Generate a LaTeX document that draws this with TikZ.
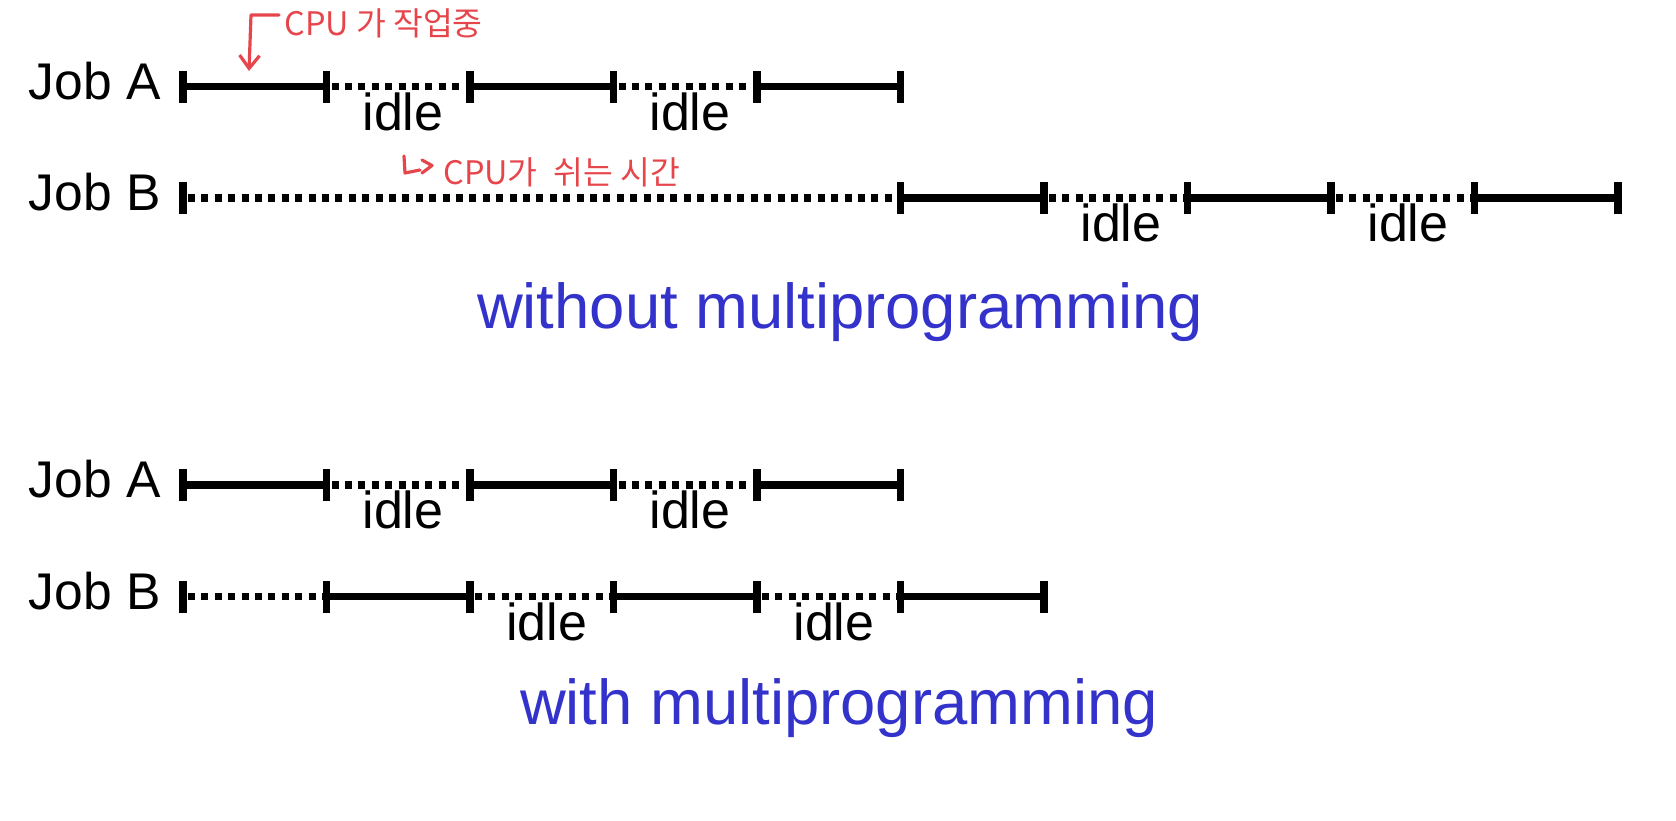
\documentclass[tikz,border=0pt]{standalone}
\usepackage{graphicx}
\usepackage{fontspec}
\setmainfont{Liberation Sans}
\newfontfamily\krfont{Noto Sans CJK KR}
\usetikzlibrary{arrows.meta}
\definecolor{titleblue}{HTML}{3333CC}
\definecolor{penred}{HTML}{E6464B}
\begin{document}
\begin{tikzpicture}[x=0.5pt,y=-0.5pt,
  seg/.style={line width=3.9pt},
  idleseg/.style={line width=3.9pt, dash pattern=on 3.5pt off 3.2pt, dash phase=-2.5pt},
  tickmark/.style={fill=black, draw=none, inner sep=0pt, minimum width=3.9pt, minimum height=16pt},
  joblbl/.style={anchor=base east, inner sep=0pt, font=\fontsize{25.8}{30}\selectfont},
  idlelbl/.style={anchor=base, inner sep=0pt, font=\fontsize{26}{30}\selectfont},
  titlelbl/.style={anchor=base, inner sep=0pt, text=titleblue, font=\fontsize{31.7}{36}\selectfont},
  note/.style={text=penred, inner sep=0pt, font=\krfont\fontsize{16.2}{19}\selectfont},
  pen/.style={draw=penred, line width=1.6pt, line cap=round, line join=round}]

\useasboundingbox (0,0) rectangle (1676,820);

% tick positions for every row
\foreach \r/\y in {a1/86.5, b1/198, a2/485, b2/596.5}{
  \foreach \i in {0,...,10}{
    \coordinate (\r-\i) at ({183+143.5*\i},\y);
  }
}

% ---------- without multiprogramming ----------
\node[joblbl] (ja1) at (161,99) {Job A};
\node[joblbl] (jb1) at (161,210.5) {Job B};

\foreach \i in {0,...,5} \node[tickmark] (a1t\i) at (a1-\i) {};
\foreach \i in {0,5,6,7,8,9,10} \node[tickmark] (b1t\i) at (b1-\i) {};

\draw[seg] (a1t0.center) -- (a1t1.center);
\draw[idleseg] (a1t1.center) -- (a1t2.center);
\draw[seg] (a1t2.center) -- (a1t3.center);
\draw[idleseg] (a1t3.center) -- (a1t4.center);
\draw[seg] (a1t4.center) -- (a1t5.center);

\draw[idleseg] (b1t0.center) -- (b1t5.center);
\draw[seg] (b1t5.center) -- (b1t6.center);
\draw[idleseg] (b1t6.center) -- (b1t7.center);
\draw[seg] (b1t7.center) -- (b1t8.center);
\draw[idleseg] (b1t8.center) -- (b1t9.center);
\draw[seg] (b1t9.center) -- (b1t10.center);

\node[idlelbl] (ia1) at (403,130) {idle};
\node[idlelbl] (ia2) at (690,130) {idle};
\node[idlelbl] (ib1) at (1121,241.5) {idle};
\node[idlelbl] (ib2) at (1408,241.5) {idle};

\node[titlelbl] (t1) at (840,328) {without multiprogramming};

% ---------- with multiprogramming ----------
\node[joblbl] (ja2) at (161,497.5) {Job A};
\node[joblbl] (jb2) at (161,609) {Job B};

\foreach \i in {0,...,5} \node[tickmark] (a2t\i) at (a2-\i) {};
\foreach \i in {0,...,6} \node[tickmark] (b2t\i) at (b2-\i) {};

\draw[seg] (a2t0.center) -- (a2t1.center);
\draw[idleseg] (a2t1.center) -- (a2t2.center);
\draw[seg] (a2t2.center) -- (a2t3.center);
\draw[idleseg] (a2t3.center) -- (a2t4.center);
\draw[seg] (a2t4.center) -- (a2t5.center);

\draw[idleseg] (b2t0.center) -- (b2t1.center);
\draw[seg] (b2t1.center) -- (b2t2.center);
\draw[idleseg] (b2t2.center) -- (b2t3.center);
\draw[seg] (b2t3.center) -- (b2t4.center);
\draw[idleseg] (b2t4.center) -- (b2t5.center);
\draw[seg] (b2t5.center) -- (b2t6.center);

\node[idlelbl] (ia3) at (403,528.5) {idle};
\node[idlelbl] (ia4) at (690,528.5) {idle};
\node[idlelbl] (ib3) at (546.5,640) {idle};
\node[idlelbl] (ib4) at (834,640) {idle};

\node[titlelbl] (t2) at (839,724) {with multiprogramming};

% ---------- red handwritten notes ----------
\node[note, anchor=west] (n1) at (284,23) {CPU 가 작업중};
\coordinate (h0) at (279,15);
\coordinate (h1) at (251,15);
\coordinate (h2) at (249,71);
\draw[pen,-{Straight Barb[length=6.5pt,width=10pt]}] (h0) -- (h1) -- (h2);

\node[note, anchor=west] (n2) at (443,172) {CPU가\hspace{0.5em}쉬는 시간};
\coordinate (g0) at (404,156);
\coordinate (g1) at (405,173);
\coordinate (g2) at (420,170);
\coordinate (g3) at (422,160);
\coordinate (g4) at (432,165.5);
\coordinate (g5) at (422,173);
\draw[pen] (g0) -- (g1) -- (g2);
\draw[pen] (g3) -- (g4) -- (g5);
\end{tikzpicture}
\end{document}
